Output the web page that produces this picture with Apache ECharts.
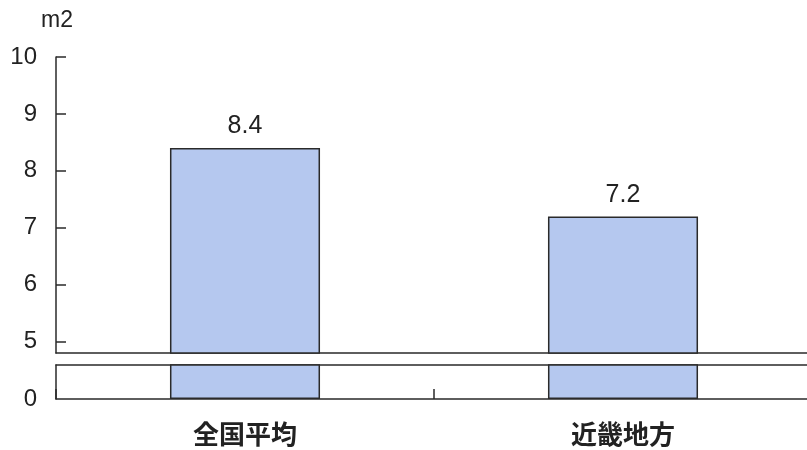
<!DOCTYPE html>
<html>
<head>
<meta charset="utf-8">
<script src="https://cdn.jsdelivr.net/npm/echarts@6/dist/echarts.min.js"></script>
<style>html,body{margin:0;padding:0;background:#fff;}#c{width:807px;height:450px;}</style>
</head>
<body>
<div id="c"></div>
<script>
const categories = ['全国平均', '近畿地方'];
const values = [8.4, 7.2];
const upperTicks = [5, 6, 7, 8, 9, 10];
const lowerTicks = [0];
const unitLabel = 'm2';

const chart = echarts.init(document.getElementById('c'), null, {renderer: 'canvas'});
const numFont = {fontFamily: 'Liberation Sans', fontSize: 24, color: '#222'};
const barStyle = {color: '#b5c8ef', borderColor: '#2a2a2a', borderWidth: 1.5};
chart.setOption({
  animation: false,
  title: {text: unitLabel, left: 36, top: 4, textStyle: {fontFamily: 'Liberation Sans', fontSize: 23, fontWeight: 'normal', color: '#222'}},
  grid: [
    {left: 56, top: 57, width: 756, height: 296, outerBoundsMode: 'none', containLabel: false},
    {left: 56, top: 365, width: 756, height: 34, outerBoundsMode: 'none', containLabel: false}
  ],
  xAxis: [
    {type: 'category', gridIndex: 0, data: categories, position: 'bottom',
     axisLine: {show: true, lineStyle: {color: '#2a2a2a', width: 1.5}},
     axisTick: {show: false}, axisLabel: {show: false}},
    {type: 'category', gridIndex: 1, data: categories, position: 'bottom',
     axisLine: {show: true, lineStyle: {color: '#2a2a2a', width: 1.5}},
     axisTick: {show: true, inside: true, length: 10, alignWithLabel: false, lineStyle: {color: '#2a2a2a', width: 1.5}},
     axisLabel: {show: true, margin: 22, fontFamily: 'Noto Sans CJK JP', fontSize: 26, fontWeight: 'bold', color: '#222'}},
    {type: 'category', gridIndex: 1, data: categories, position: 'top',
     axisLine: {show: true, lineStyle: {color: '#2a2a2a', width: 1.5}},
     axisTick: {show: false}, axisLabel: {show: false}}
  ],
  yAxis: [
    {type: 'value', gridIndex: 0, min: 4.8, max: 10,
     axisLine: {show: true, lineStyle: {color: '#2a2a2a', width: 1.5}},
     axisTick: {show: true, inside: true, length: 10, customValues: upperTicks, lineStyle: {color: '#2a2a2a', width: 1.5}},
     axisLabel: Object.assign({customValues: upperTicks, margin: 19}, numFont),
     splitLine: {show: false}},
    {type: 'value', gridIndex: 1, min: 0, max: 1,
     axisLine: {show: true, lineStyle: {color: '#2a2a2a', width: 1.5}},
     axisTick: {show: false},
     axisLabel: Object.assign({customValues: lowerTicks, margin: 19}, numFont),
     splitLine: {show: false}}
  ],
  series: [
    {type: 'bar', xAxisIndex: 0, yAxisIndex: 0, data: values, barWidth: '39.7%', clip: true,
     itemStyle: barStyle,
     label: {show: true, position: 'top', distance: 9, fontFamily: 'Liberation Sans', fontSize: 25, color: '#222'}},
    {type: 'bar', xAxisIndex: 1, yAxisIndex: 1, data: values, barWidth: '39.7%', clip: true,
     itemStyle: barStyle, label: {show: false}}
  ]
});
</script>
</body>
</html>
